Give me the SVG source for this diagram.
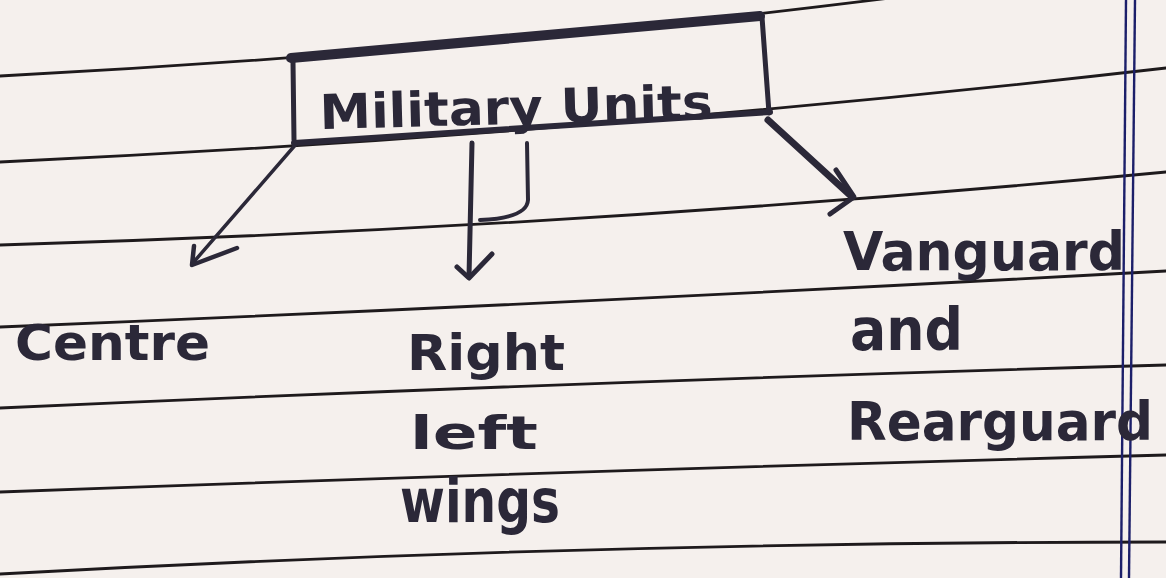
<svg xmlns="http://www.w3.org/2000/svg" width="1166" height="578" viewBox="0 0 1166 578">
<style>
.rule{fill:none;stroke:#1e1a1c;stroke-width:2.8;stroke-linecap:round}
.margin{fill:none;stroke:#1c1f6a;stroke-width:2.4}
.ink{fill:none;stroke:#2b2838;stroke-linecap:round;stroke-linejoin:round}
.lbl{font-family:"DejaVu Sans","Liberation Sans",sans-serif;fill:#2b2838;font-weight:bold}
</style>
<rect x="0" y="0" width="1166" height="578" fill="#f5f0ed"/>
<g id="paper">
<path class="rule" d="M0,76 Q600,45 1166,-40"/>
<path class="rule" d="M0,162 Q583,135 1166,68"/>
<path class="rule" d="M0,245 Q583,227.5 1166,172"/>
<path class="rule" d="M0,327 Q583,303 1166,271"/>
<path class="rule" d="M0,408 Q583,381.5 1166,365"/>
<path class="rule" d="M0,492 Q583,470.5 1166,455"/>
<path class="rule" d="M0,574 Q583,542 1166,542"/>
<line class="margin" x1="1126" y1="0" x2="1121" y2="578"/>
<line class="margin" x1="1135" y1="0" x2="1129" y2="578"/>
</g>
<g id="connectors">
<path class="ink" stroke-width="3.5" d="M297,143 L192,264"/>
<path class="ink" stroke-width="4.5" d="M194,246 L192,265 L237,248"/>
<path class="ink" stroke-width="5" d="M472,143 L469,277"/>
<path class="ink" stroke-width="5" d="M457,267 L469,278 L492,254"/>
<path class="ink" stroke-width="4" d="M527,143 L528,200 Q527,218 480,220"/>
<path class="ink" stroke-width="7" d="M768,120 L851,196"/>
<path class="ink" stroke-width="5" d="M836,170 L854,197 L830,214"/>
</g>
<g id="node-military-units">
<path class="ink" stroke-width="10" d="M291,58 L760,16"/>
<path class="ink" stroke-width="5" d="M293,62 L294,140"/>
<path class="ink" stroke-width="5" d="M762,17 L769,113"/>
<path class="ink" stroke-width="6" d="M294,143 L770,112"/>
<text class="lbl" x="320" y="129" font-size="48" textLength="393" lengthAdjust="spacingAndGlyphs" transform="rotate(-1.5 320 129)">Military Units</text>
</g>
<g id="node-centre">
<text class="lbl" x="15" y="360" font-size="50" textLength="195" lengthAdjust="spacingAndGlyphs">Centre</text>
</g>
<g id="node-right-left-wings">
<text class="lbl" x="407" y="370" font-size="50" textLength="158" lengthAdjust="spacingAndGlyphs">Right</text>
<text class="lbl" x="410" y="449" font-size="46" textLength="128" lengthAdjust="spacingAndGlyphs">left</text>
<text class="lbl" x="400" y="522" font-size="60" textLength="160" lengthAdjust="spacingAndGlyphs">wings</text>
</g>
<g id="node-vanguard-rearguard">
<text class="lbl" x="843" y="270" font-size="54" textLength="282" lengthAdjust="spacingAndGlyphs">Vanguard</text>
<text class="lbl" x="850" y="350" font-size="58" textLength="113" lengthAdjust="spacingAndGlyphs">and</text>
<text class="lbl" x="847" y="440" font-size="54" textLength="306" lengthAdjust="spacingAndGlyphs">Rearguard</text>
</g>
</svg>
